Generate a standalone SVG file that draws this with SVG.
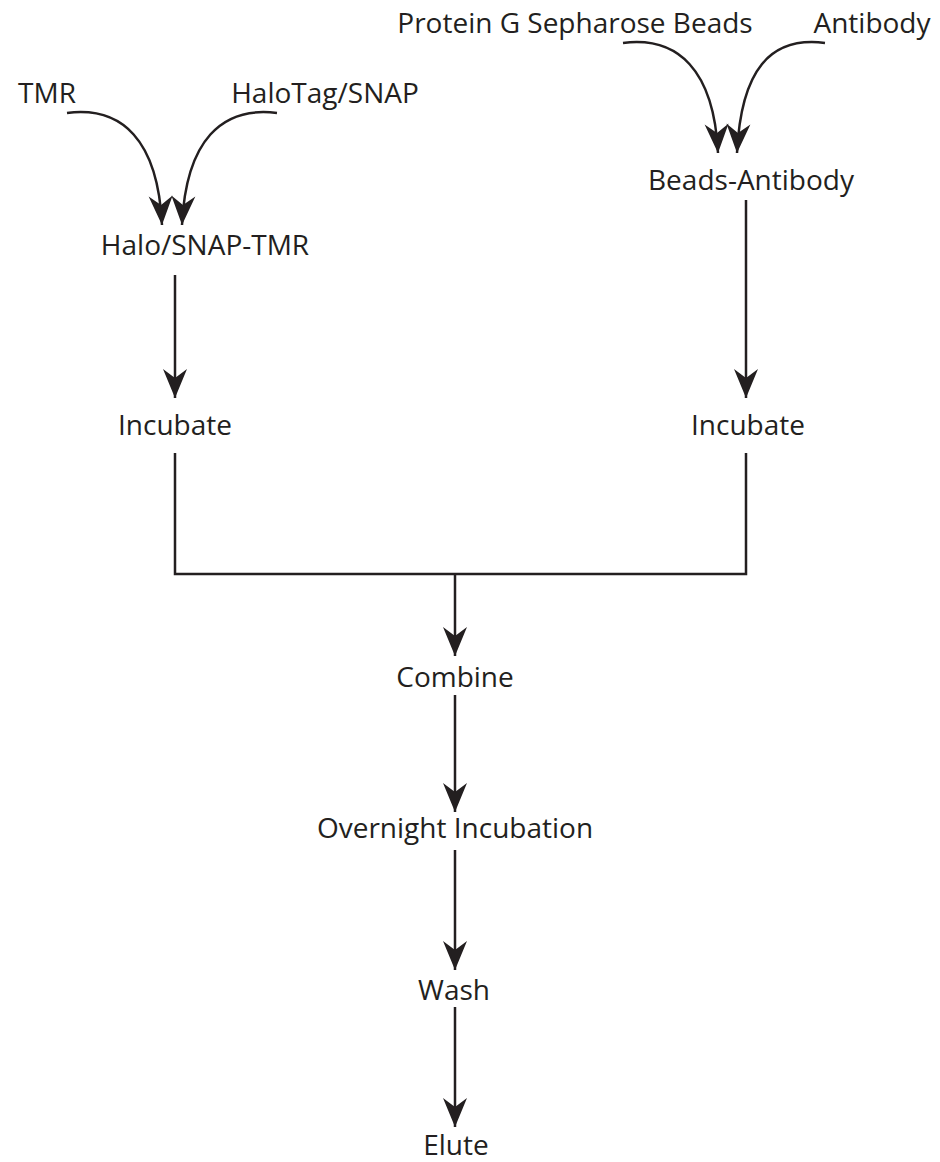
<svg xmlns="http://www.w3.org/2000/svg" width="940" height="1162" viewBox="0 0 940 1162">
<style>
text{font-family:"Open Sans","Noto Sans",sans-serif;font-size:28px;fill:#231f20;text-anchor:middle}
.c{fill:none;stroke:#231f20;stroke-width:2.5}
</style>
<defs>
<marker id="ah" markerUnits="userSpaceOnUse" viewBox="-30 -13 31 26" refX="0" refY="0" markerWidth="31" markerHeight="26" orient="auto">
<path d="M0,0 L-29,-12 L-20,0 L-29,12 Z" fill="#231f20"/>
</marker>
</defs>
<rect width="940" height="1162" fill="#fff"/>
<g id="connectors">
<path class="c" d="M67,113 C122,106 158,140 162,225" marker-end="url(#ah)"/>
<path class="c" d="M277,113 C222,106 186,140 182,225" marker-end="url(#ah)"/>
<path class="c" d="M623,43 C678,36 714,70 718,153" marker-end="url(#ah)"/>
<path class="c" d="M825,43 C770,36 741,70 737,153" marker-end="url(#ah)"/>
<path class="c" d="M175,275 V398" marker-end="url(#ah)"/>
<path class="c" d="M746,200 V398" marker-end="url(#ah)"/>
<path class="c" d="M175,453 V574 H746 V453"/>
<path class="c" d="M455,574 V656" marker-end="url(#ah)"/>
<path class="c" d="M455,695 V812" marker-end="url(#ah)"/>
<path class="c" d="M455,850 V970" marker-end="url(#ah)"/>
<path class="c" d="M455,1007 V1127" marker-end="url(#ah)"/>
</g>
<g id="tmr"><text x="47" y="103">TMR</text></g>
<g id="halotag"><text x="325" y="103">HaloTag/SNAP</text></g>
<g id="protein-g"><text x="575" y="33">Protein G Sepharose Beads</text></g>
<g id="antibody"><text x="872" y="33">Antibody</text></g>
<g id="beads-antibody"><text x="751" y="190">Beads-Antibody</text></g>
<g id="halo-snap-tmr"><text x="205" y="255">Halo/SNAP-TMR</text></g>
<g id="incubate-left"><text x="175" y="435">Incubate</text></g>
<g id="incubate-right"><text x="748" y="435">Incubate</text></g>
<g id="combine"><text x="455" y="687">Combine</text></g>
<g id="overnight"><text x="455" y="838">Overnight Incubation</text></g>
<g id="wash"><text x="454" y="1000">Wash</text></g>
<g id="elute"><text x="456" y="1155">Elute</text></g>
</svg>
